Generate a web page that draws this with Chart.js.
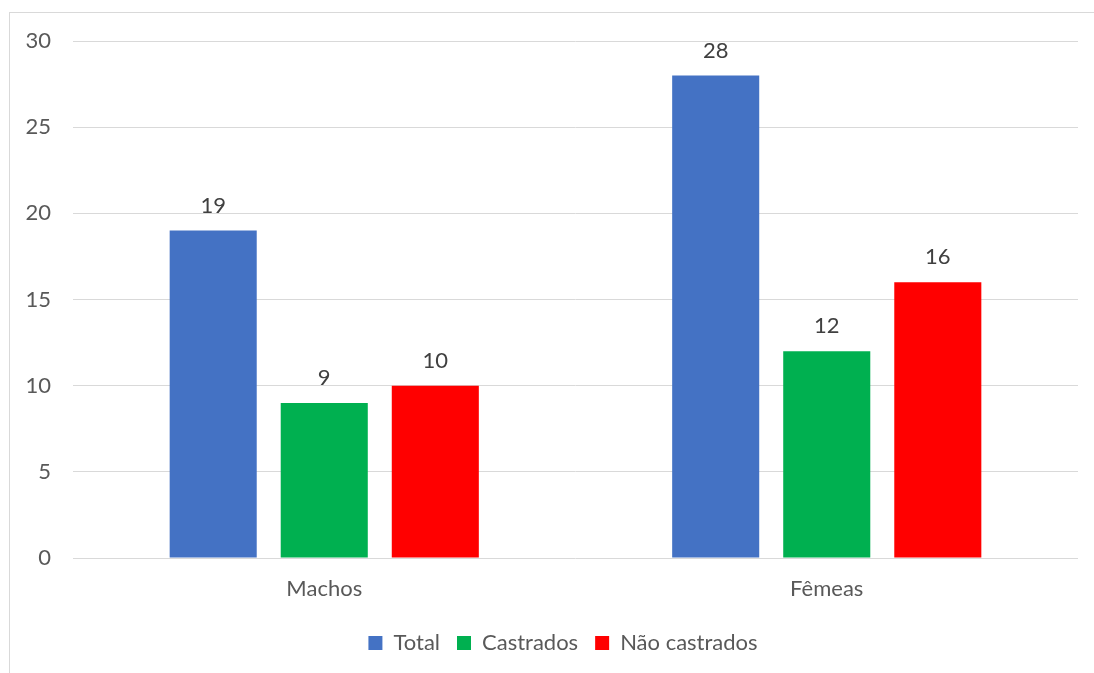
<!DOCTYPE html>
<html>
<head>
<meta charset="utf-8">
<script src="https://cdn.jsdelivr.net/npm/chart.js@4"></script>
<style>
  html, body { margin: 0; padding: 0; background: #ffffff; }
  #frame { position: absolute; left: 9px; top: 12px; width: 1200px; height: 800px;
           border-left: 1px solid #d9d9d9; border-top: 1px solid #d9d9d9; }
  #wrap { position: absolute; left: 0; top: 0; width: 1094px; height: 673px; }
</style>
</head>
<body>
<div id="frame"></div>
<div id="wrap"><canvas id="c" width="1094" height="673"></canvas></div>
<script>
const categories = ['Machos', 'Fêmeas'];
const seriesNames = ['Total', 'Castrados', 'Não castrados'];
const totalValues = [19, 28];
const castradosValues = [9, 12];
const naoCastradosValues = [10, 16];
const yTicks = [0, 5, 10, 15, 20, 25, 30];
const seriesColors = ['#4472C4', '#00B050', '#FF0000'];

const FONT = 'Lato, "Open Sans", sans-serif';
const FONT_SIZE = 22;

// Writes each bar's value just above it
const valueLabels = {
  id: 'valueLabels',
  afterDatasetsDraw(chart) {
    const ctx = chart.ctx;
    ctx.save();
    ctx.fillStyle = '#404040';
    ctx.font = FONT_SIZE + 'px ' + FONT;
    ctx.textAlign = 'center';
    ctx.textBaseline = 'middle';
    chart.data.datasets.forEach((ds, i) => {
      chart.getDatasetMeta(i).data.forEach((bar, j) => {
        ctx.fillText(String(ds.data[j]), bar.x, bar.y - 25);
      });
    });
    ctx.restore();
  }
};

// Centres the legend row on the framed box rather than on the canvas
const legendOffset = {
  id: 'legendOffset',
  afterLayout(chart) {
    if (chart.legend) chart.legend.left += 48;
  }
};

new Chart(document.getElementById('c'), {
  type: 'bar',
  data: {
    labels: categories,
    datasets: [
      { label: seriesNames[0], data: totalValues, backgroundColor: seriesColors[0] },
      { label: seriesNames[1], data: castradosValues, backgroundColor: seriesColors[1] },
      { label: seriesNames[2], data: naoCastradosValues, backgroundColor: seriesColors[2] }
    ]
  },
  options: {
    responsive: false,
    animation: false,
    datasets: { bar: { categoryPercentage: 0.663, barPercentage: 0.784 } },
    layout: { padding: { left: 0, right: 16, top: 41, bottom: 9 } },
    plugins: {
      tooltip: { enabled: false },
      legend: {
        position: 'bottom',
        labels: {
          boxWidth: 14, boxHeight: 14, padding: 17,
          color: '#595959',
          font: { family: FONT, size: FONT_SIZE }
        }
      }
    },
    scales: {
      x: {
        grid: { display: false, drawTicks: false },
        border: { display: false },
        ticks: { color: '#595959', font: { family: FONT, size: FONT_SIZE }, padding: 18 },
        afterFit(s) { s.height = 57; }
      },
      y: {
        min: 0, max: 30,
        afterBuildTicks(s) { s.ticks = yTicks.map(v => ({ value: v })); },
        grid: { color: '#d9d9d9', lineWidth: 1, drawTicks: false },
        border: { display: false },
        ticks: { color: '#595959', font: { family: FONT, size: FONT_SIZE }, padding: 22 },
        afterFit(s) { s.width = 73; }
      }
    }
  },
  plugins: [valueLabels, legendOffset]
});
</script>
</body>
</html>
